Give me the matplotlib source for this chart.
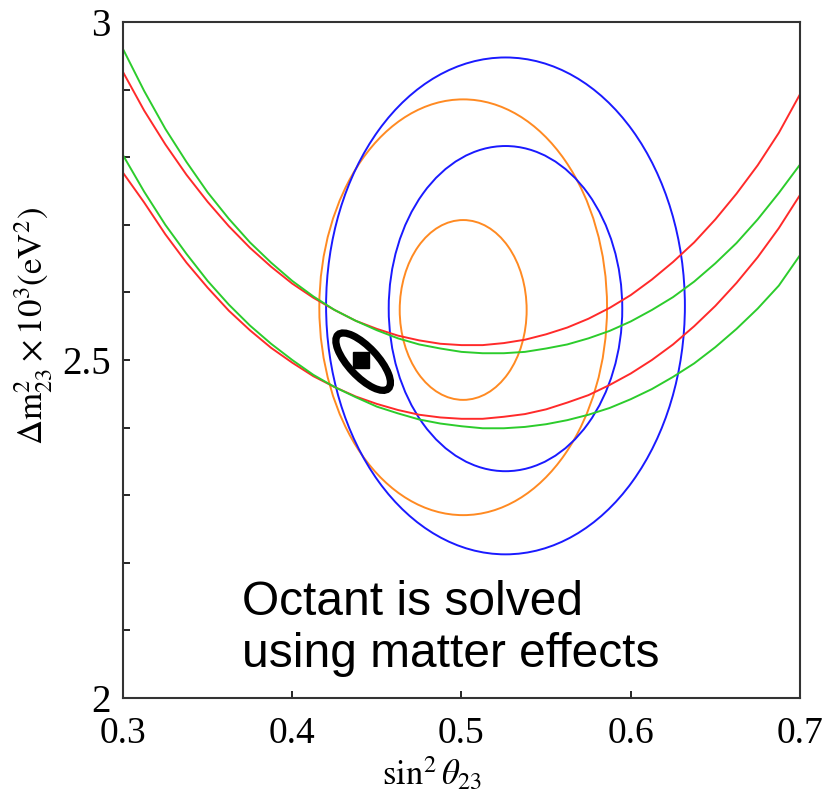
import numpy as np
import matplotlib
matplotlib.use("Agg")
import matplotlib.pyplot as plt
from matplotlib.patches import Ellipse
from matplotlib import transforms

plt.rcParams["mathtext.fontset"] = "stix"

# sin^2(theta23) grid for the disappearance curves
sin2 = np.linspace(0.3, 0.7, 33)

# dm^2_23 (x 1e-3 eV^2) along each curve
red_upper = [2.926, 2.869, 2.819, 2.774, 2.734, 2.698, 2.666, 2.638, 2.613,
             2.592, 2.574, 2.558, 2.546, 2.536, 2.529, 2.524, 2.522, 2.522,
             2.525, 2.530, 2.538, 2.548, 2.561, 2.577, 2.596, 2.619, 2.645,
             2.674, 2.708, 2.746, 2.788, 2.836, 2.893]
green_upper = [2.960, 2.898, 2.842, 2.793, 2.748, 2.709, 2.674, 2.644, 2.617,
               2.594, 2.574, 2.558, 2.544, 2.532, 2.523, 2.517, 2.512, 2.510,
               2.510, 2.512, 2.517, 2.523, 2.532, 2.543, 2.557, 2.574, 2.593,
               2.616, 2.643, 2.673, 2.708, 2.747, 2.789]
red_lower = [2.777, 2.733, 2.686, 2.644, 2.607, 2.573, 2.544, 2.518, 2.496,
             2.476, 2.460, 2.446, 2.435, 2.426, 2.419, 2.415, 2.413, 2.413,
             2.416, 2.420, 2.427, 2.437, 2.448, 2.463, 2.480, 2.500, 2.523,
             2.550, 2.580, 2.614, 2.652, 2.695, 2.744]
green_lower = [2.803, 2.749, 2.700, 2.657, 2.617, 2.582, 2.551, 2.524, 2.500,
               2.478, 2.460, 2.445, 2.431, 2.421, 2.412, 2.406, 2.402, 2.399,
               2.399, 2.401, 2.405, 2.411, 2.419, 2.429, 2.442, 2.457, 2.475,
               2.495, 2.519, 2.546, 2.576, 2.610, 2.655]

# allowed regions: (center x, center y, full width, full height, colour)
contours = [
    (0.501, 2.578, 0.170, 0.615, "#ff8a22"),
    (0.501, 2.574, 0.075, 0.266, "#ff8a22"),
    (0.526, 2.576, 0.138, 0.481, "#1a1aff"),
    (0.526, 2.580, 0.212, 0.735, "#1a1aff"),
]

# best fit point and its region
best_x, best_y = 0.4405, 2.500
fit_x, fit_y = 0.4419, 2.4975
fit_major, fit_minor, fit_angle = 0.109, 0.043, -47

fig = plt.figure(figsize=(8.26, 7.99), dpi=100)
ax = fig.add_axes([0.1489, 0.1264, 0.8196, 0.8461])

for vals, col in [(red_upper, "#ff2a2a"), (green_upper, "#2ccc2c"),
                  (red_lower, "#ff2a2a"), (green_lower, "#2ccc2c")]:
    ax.plot(sin2, vals, color=col, lw=1.4, solid_joinstyle="round")

for cx, cy, w, h, c in contours:
    ax.add_patch(Ellipse((cx, cy), w, h, fill=False, edgecolor=c, lw=1.4))

# the tilted ellipse is defined where 0.4 in x spans the same length as 1 in y
iso = transforms.Affine2D().scale(0.4, 1.0) + ax.transData
ax.add_patch(Ellipse((fit_x / 0.4, fit_y), fit_major, fit_minor, angle=fit_angle,
                     fill=False, edgecolor="black", lw=5.2, transform=iso))
ax.plot([best_x], [best_y], marker="s", color="black", ms=12, linestyle="none")

ax.set_xlim(0.3, 0.7)
ax.set_ylim(2.0, 3.0)
ax.set_xticks([0.3, 0.4, 0.5, 0.6, 0.7])
ax.set_xticklabels(["0.3", "0.4", "0.5", "0.6", "0.7"])
ax.set_yticks(np.arange(2.0, 3.01, 0.1))
ax.set_yticklabels(["2", "", "", "", "", "2.5", "", "", "", "", "3"])
ax.tick_params(direction="in", length=5, width=1.2,
               top=False, right=False, labelsize=28)
ax.tick_params(axis="x", pad=13, labelsize=27)
ax.tick_params(axis="y", pad=9)
for lab in ax.get_xticklabels() + ax.get_yticklabels():
    lab.set_family("Liberation Serif")
for sp in ax.spines.values():
    sp.set_linewidth(1.5)
    sp.set_color("#333333")

ax.set_xlabel(r"$\mathrm{sin}^2\,\theta_{23}$", fontsize=25)
ax.xaxis.set_label_coords(0.456, -0.084)
ax.set_ylabel(r"$\Delta \mathrm{m}^2_{23}\times 10^3(\mathrm{eV}^2)$", fontsize=25)
ax.yaxis.set_label_coords(-0.10, 0.55)

ax.text(0.1758, 0.0459, "Octant is solved\nusing matter effects",
        transform=ax.transAxes, family="Liberation Sans", fontsize=34.5,
        ha="left", va="baseline", linespacing=1.2)

fig.savefig("out.png", dpi=100)
